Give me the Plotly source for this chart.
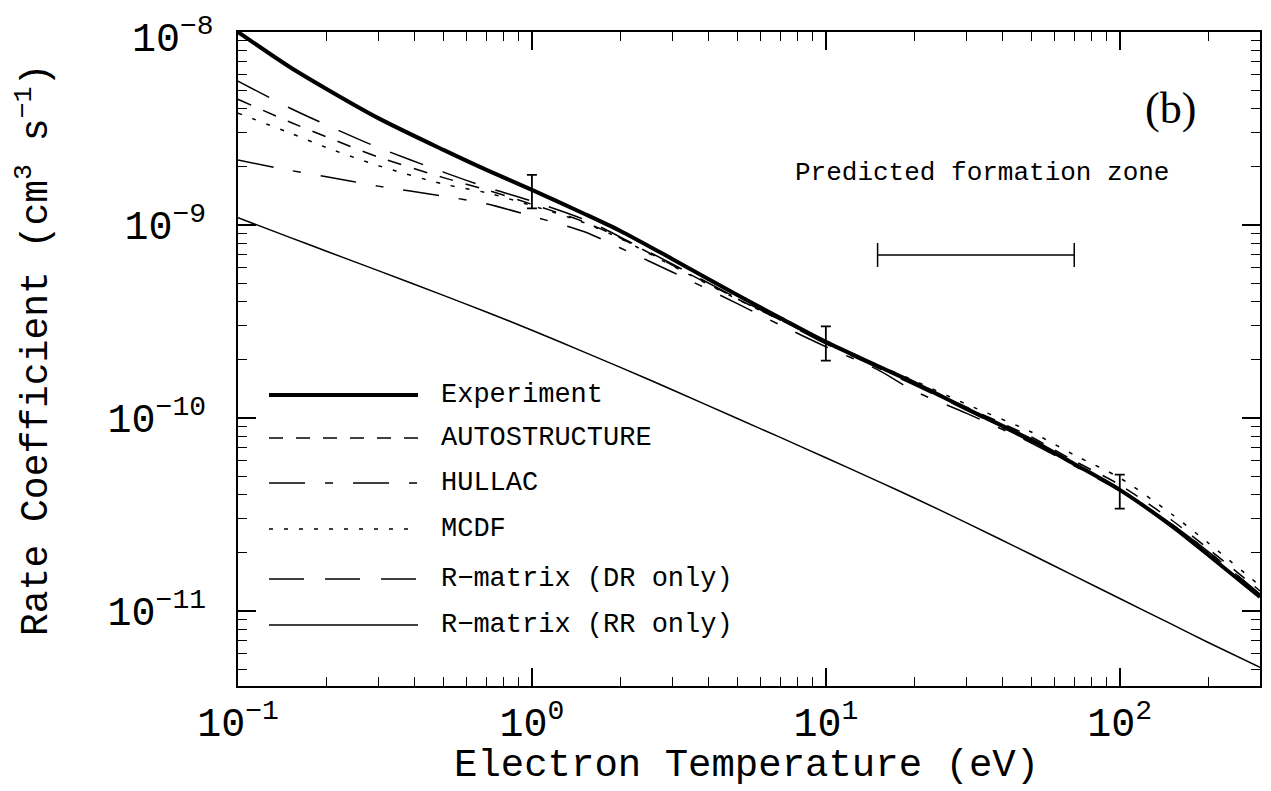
import plotly.graph_objects as go

# ---------------- data ----------------
T = [0.1, 0.15, 0.2, 0.3, 0.5, 0.7, 1, 1.5, 2, 3, 5, 7, 10, 15, 20, 30, 50, 70, 100, 150, 200, 300]

experiment = [1.00e-8, 6.59e-9, 5.07e-9, 3.58e-9, 2.45e-9, 1.93e-9, 1.52e-9, 1.147e-9, 9.31e-10, 6.67e-10,
              4.34e-10, 3.30e-10, 2.48e-10, 1.86e-10, 1.52e-10, 1.12e-10, 7.69e-11, 5.78e-11, 4.24e-11,
              2.76e-11, 1.95e-11, 1.18e-11]
autostructure = [4.48e-9, 3.42e-9, 2.86e-9, 2.25e-9, 1.76e-9, 1.52e-9, 1.28e-9, 1.04e-9, 8.56e-10, 6.20e-10,
                 4.14e-10, 3.22e-10, 2.45e-10, 1.86e-10, 1.52e-10, 1.14e-10, 7.97e-11, 5.99e-11, 4.50e-11,
                 2.96e-11, 2.10e-11, 1.27e-11]
mcdf = [3.80e-9, 3.00e-9, 2.52e-9, 2.03e-9, 1.63e-9, 1.47e-9, 1.26e-9, 1.03e-9, 8.50e-10, 6.15e-10,
        4.12e-10, 3.22e-10, 2.46e-10, 1.88e-10, 1.56e-10, 1.18e-10, 8.46e-11, 6.43e-11, 4.89e-11,
        3.18e-11, 2.25e-11, 1.35e-11]
r_matrix_dr = [5.57e-9, 4.04e-9, 3.30e-9, 2.52e-9, 1.88e-9, 1.57e-9, 1.33e-9, 1.07e-9, 8.66e-10, 6.28e-10,
               4.18e-10, 3.22e-10, 2.42e-10, 1.82e-10, 1.48e-10, 1.10e-10, 7.51e-11, 5.71e-11, 4.24e-11,
               2.82e-11, 2.03e-11, 1.22e-11]
hullac = [2.17e-9, 1.92e-9, 1.78e-9, 1.59e-9, 1.41e-9, 1.29e-9, 1.11e-9, 9.25e-10, 7.60e-10, 5.71e-10,
          3.91e-10, 3.03e-10, 2.34e-10, 1.78e-10, 1.38e-10, 1.06e-10, 7.42e-11, 5.64e-11, 4.19e-11,
          2.82e-11, 2.03e-11, 1.22e-11]
r_matrix_rr = [1.09e-9, 8.63e-10, 7.31e-10, 5.80e-10, 4.32e-10, 3.54e-10, 2.85e-10, 2.20e-10, 1.83e-10,
               1.40e-10, 9.93e-11, 7.93e-11, 6.22e-11, 4.71e-11, 3.85e-11, 2.87e-11, 1.96e-11, 1.52e-11,
               1.16e-11, 8.54e-12, 6.86e-12, 5.10e-12]

err_T = [1, 10, 100]
err_val = [1.52e-9, 2.48e-10, 4.24e-11]
err_size = [0.30e-9, 0.50e-10, 0.85e-11]

zone_lo, zone_hi, zone_y = 15, 70, 7.0e-10

legend_labels = ["Experiment", "AUTOSTRUCTURE", "HULLAC", "MCDF", "R\u2212matrix (DR only)", "R\u2212matrix (RR only)"]

x_major = [0.1, 1, 10, 100]
x_text = ["10<sup>\u22121</sup>", "10<sup>0</sup>", "10<sup>1</sup>", "10<sup>2</sup>"]
y_major = [1e-11, 1e-10, 1e-9, 1e-8]
y_text = ["10<sup>\u221211</sup>", "10<sup>\u221210</sup>", "10<sup>\u22129</sup>", "10<sup>\u22128</sup>"]

# ---------------- styling ----------------
FONT = "Liberation Mono"
styles = {
    "Experiment": dict(width=4, dash="solid"),
    "AUTOSTRUCTURE": dict(width=1.5, dash="14px,13px"),
    "HULLAC": dict(width=1.5, dash="36px,20px,8px,20px"),
    "MCDF": dict(width=1.5, dash="4px,11px"),
    "R\u2212matrix (DR only)": dict(width=1.5, dash="35px,21px"),
    "R\u2212matrix (RR only)": dict(width=1.5, dash="solid"),
}
series = [experiment, autostructure, hullac, mcdf, r_matrix_dr, r_matrix_rr]

# the page body adds an 8px offset; figure is sized to fill the rest of the window
OFF = 8
W, H = 1271 - OFF, 791 - OFF
# plot area in window pixels
L, R, TOP, B = 238, 1260, 32, 686


def pxx(x):
    return (x - L) / (R - L)


def pxy(y):
    return (B - y) / (B - TOP)


fig = go.Figure()
for name, ys in zip(legend_labels, series):
    st = styles[name]
    fig.add_trace(go.Scatter(x=T, y=ys, mode="lines", name=name, showlegend=False,
                             line=dict(color="black", width=st["width"], dash=st["dash"],
                                       shape="spline", smoothing=0.8)))

# error bars on experiment
fig.add_trace(go.Scatter(x=err_T, y=err_val, mode="markers", showlegend=False,
                         marker=dict(size=1, color="rgba(0,0,0,0)"),
                         error_y=dict(type="data", array=err_size, visible=True,
                                      color="black", thickness=1.8, width=5)))

# predicted formation zone bar
zc = (zone_lo * zone_hi) ** 0.5
fig.add_trace(go.Scatter(x=[zc], y=[zone_y], mode="markers", showlegend=False,
                         marker=dict(size=1, color="rgba(0,0,0,0)"),
                         error_x=dict(type="data", symmetric=False, array=[zone_hi - zc],
                                      arrayminus=[zc - zone_lo], visible=True,
                                      color="black", thickness=1.5, width=12)))

# manual legend
rows = [395, 438, 483, 529, 579, 625]
for name, ry in zip(legend_labels, rows):
    st = styles[name]
    fig.add_shape(type="line", xref="paper", yref="paper", x0=pxx(269), x1=pxx(418),
                  y0=pxy(ry), y1=pxy(ry), line=dict(color="black", width=st["width"], dash=st["dash"]))
    fig.add_annotation(xref="paper", yref="paper", x=pxx(439), y=pxy(ry), text=name,
                       showarrow=False, xanchor="left", yanchor="middle",
                       font=dict(family=FONT, size=27, color="black"))

fig.add_annotation(xref="paper", yref="paper", x=pxx(1170), y=pxy(108), text="(b)",
                   showarrow=False, xanchor="center", yanchor="middle",
                   font=dict(family="Liberation Serif", size=44, color="black"))
fig.add_annotation(xref="paper", yref="paper", x=pxx(982), y=pxy(173), text="Predicted formation zone",
                   showarrow=False, xanchor="center", yanchor="middle",
                   font=dict(family=FONT, size=26, color="black"))

# axis titles
fig.add_annotation(xref="paper", yref="paper", x=pxx(746), y=pxy(766), text="Electron Temperature (eV)",
                   showarrow=False, xanchor="center", yanchor="middle",
                   font=dict(family=FONT, size=39, color="black"))
fig.add_annotation(xref="paper", yref="paper", x=pxx(33), y=pxy(350),
                   text="Rate Coefficient (cm<sup>3</sup> s<sup>\u22121</sup>)", textangle=-90,
                   showarrow=False, xanchor="center", yanchor="middle",
                   font=dict(family=FONT, size=38, color="black"))

# top y label (10^-8) sits slightly below its tick, as in the reference, so it stays on the page
y_tick_text = list(y_text[:-1]) + [""]
fig.add_annotation(xref="paper", yref="paper", x=pxx(216), y=pxy(37), text=y_text[-1],
                   showarrow=False, xanchor="right", yanchor="middle",
                   font=dict(family=FONT, size=40, color="black"))

x_minor = [m * d for d in [0.1, 1, 10, 100] for m in range(2, 10) if m * d <= 300]
y_minor = [m * d for d in [1e-12, 1e-11, 1e-10, 1e-9] for m in range(2, 10) if 4e-12 <= m * d <= 1e-8]

axis_common = dict(showgrid=False, zeroline=False, showline=True, linecolor="black", linewidth=2,
                   mirror="allticks", ticks="inside", ticklen=18, tickwidth=1.5, tickcolor="black",
                   automargin=False, ticklabeloverflow="allow",
                   tickfont=dict(family=FONT, size=40, color="black"))

fig.update_xaxes(type="log", range=[-1, 2.4771], tickvals=x_major, ticktext=x_text,
                 minor=dict(tickvals=x_minor, ticks="inside", ticklen=9, tickwidth=1.2, tickcolor="black"),
                 **axis_common)
fig.update_yaxes(type="log", range=[-11.389, -7.9999], tickvals=y_major, ticktext=y_tick_text,
                 minor=dict(tickvals=y_minor, ticks="inside", ticklen=9, tickwidth=1.2, tickcolor="black"),
                 ticklabelstandoff=22, **axis_common)

fig.update_layout(width=W, height=H,
                  margin=dict(l=L - OFF, r=(W + OFF) - R, t=TOP - OFF, b=(H + OFF) - B, autoexpand=False),
                  paper_bgcolor="white", plot_bgcolor="white")

fig.write_html("out.html")
